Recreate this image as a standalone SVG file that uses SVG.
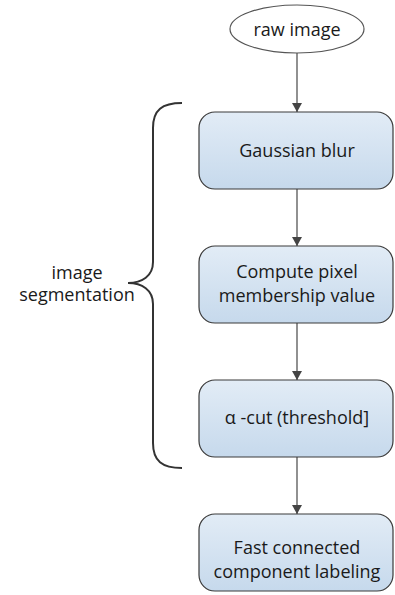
<svg xmlns="http://www.w3.org/2000/svg" width="395" height="595" viewBox="0 0 395 595">
<style>
.t{font-family:"Open Sans","Noto Sans",sans-serif;font-size:18px;fill:#1a1a1a;text-anchor:middle}
.box{fill:url(#g);stroke:#3a3a3a;stroke-width:1.2}
.c{stroke:#555;stroke-width:1.3;fill:none;marker-end:url(#a)}
</style>
<defs>
<linearGradient id="g" x1="0" y1="0" x2="0" y2="1">
<stop offset="0" stop-color="#e2ecf6"/>
<stop offset="1" stop-color="#c6d9ec"/>
</linearGradient>
<marker id="a" markerWidth="10" markerHeight="10" refX="9" refY="5" orient="auto" markerUnits="userSpaceOnUse">
<path d="M0,0 L9,5 L0,10 z" fill="#444"/>
</marker>
</defs>
<g id="connectors">
<line class="c" x1="297" y1="53" x2="297" y2="112"/>
<line class="c" x1="297" y1="189" x2="297" y2="246"/>
<line class="c" x1="297" y1="323" x2="297" y2="380"/>
<line class="c" x1="297" y1="457" x2="297" y2="514"/>
</g>
<g id="raw">
<ellipse cx="297" cy="29" rx="67" ry="24" fill="#fff" stroke="#555" stroke-width="1.2"/>
<text class="t" x="297" y="36" font-size="20">raw image</text>
</g>
<g id="blur">
<rect class="box" x="199" y="112" width="194" height="77" rx="16"/>
<text class="t" x="297" y="157">Gaussian blur</text>
</g>
<g id="membership">
<rect class="box" x="199" y="246" width="194" height="77" rx="16"/>
<text class="t" x="297" y="278">Compute pixel</text>
<text class="t" x="297" y="302">membership value</text>
</g>
<g id="alphacut">
<rect class="box" x="199" y="380" width="194" height="77" rx="16"/>
<text class="t" x="297" y="424">α -cut (threshold]</text>
</g>
<g id="labeling">
<rect class="box" x="199" y="514" width="194" height="77" rx="16"/>
<text class="t" x="297" y="554">Fast connected</text>
<text class="t" x="297" y="578">component labeling</text>
</g>
<g id="segmentation">
<path d="M182,103 C162,103 153,110 153,128 L153,262 C153,276 142,283 128,283 C142,283 153,290 153,304 L153,443 C153,461 162,468 182,468" fill="none" stroke="#333" stroke-width="2"/>
<text class="t" x="77" y="279" font-size="16">image</text>
<text class="t" x="77" y="301" font-size="16">segmentation</text>
</g>
</svg>
